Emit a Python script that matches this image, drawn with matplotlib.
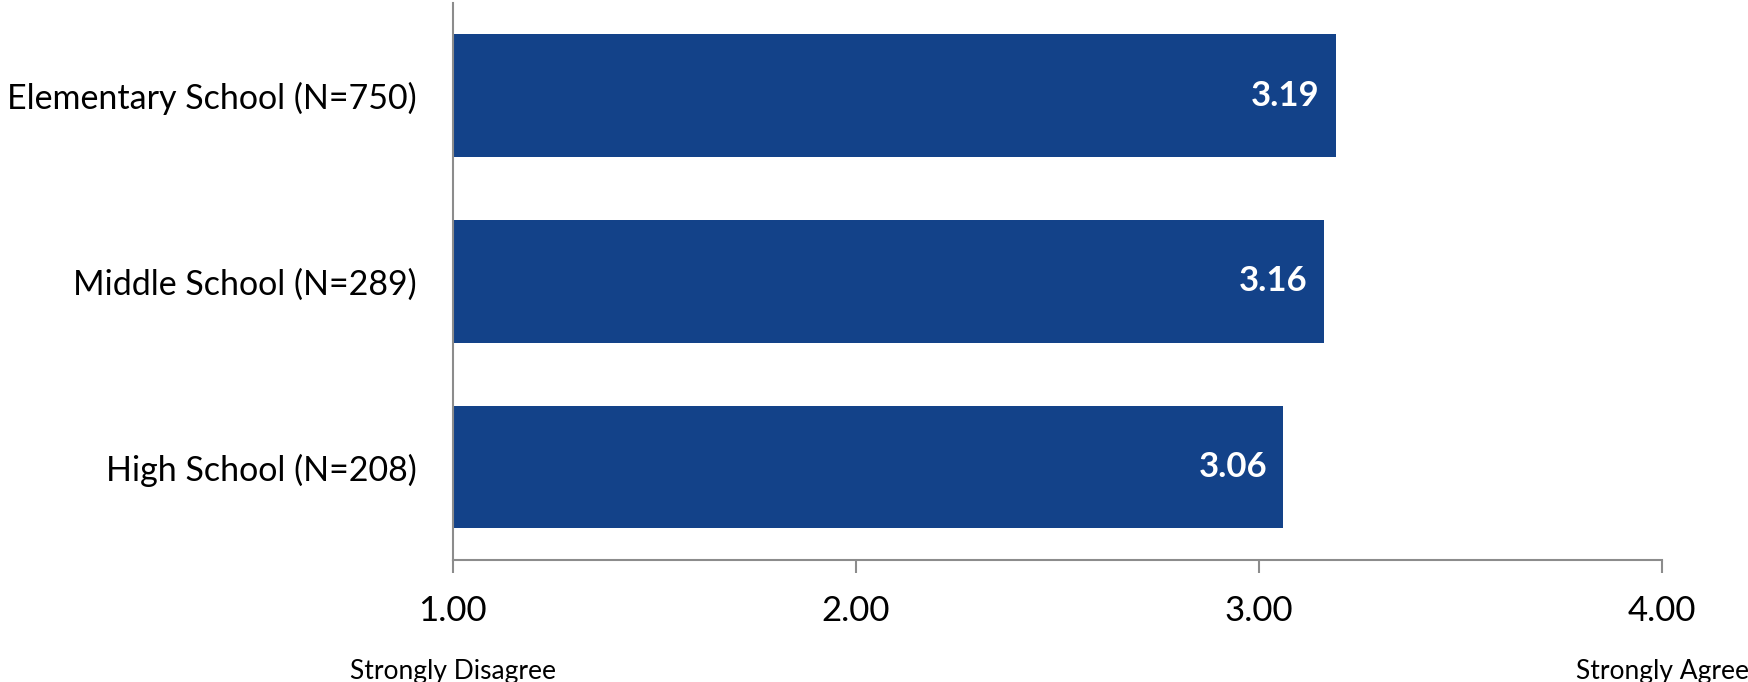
import matplotlib
matplotlib.use("Agg")
import matplotlib.pyplot as plt

schools = ["High School (N=208)", "Middle School (N=289)", "Elementary School (N=750)"]
means = [3.06, 3.16, 3.19]
xticks = [1.0, 2.0, 3.0, 4.0]

plt.rcParams['font.family'] = ['Lato', 'DejaVu Sans']

fig = plt.figure(figsize=(17.48, 6.82), dpi=100)
ax = fig.add_axes([0.259, 0.179, 0.692, 0.817])

bar_color = "#134289"
axis_color = "#8c8c8c"

ypos = range(len(schools))
ax.barh(ypos, [m - 1 for m in means], left=1, height=0.66, color=bar_color)

for y, m in zip(ypos, means):
    ax.text(m - 0.04, y, f"{m:.2f}", ha="right", va="center",
            color="white", fontsize=25, fontweight="bold")

ax.set_xlim(1, 4)
ax.set_ylim(-0.5, 2.5)
ax.set_yticks(list(ypos))
ax.set_yticklabels(schools, fontsize=24.5)
ax.set_xticks(xticks)
ax.set_xticklabels([f"{t:.2f}" for t in xticks], fontsize=25)

for side in ("top", "right"):
    ax.spines[side].set_visible(False)
for side in ("left", "bottom"):
    ax.spines[side].set_color(axis_color)
    ax.spines[side].set_linewidth(1.5)

ax.tick_params(axis="y", length=0, pad=26)
ax.tick_params(axis="x", length=9, width=1.5, color=axis_color, pad=16)

# scale anchors under the end ticks
ax.text(1, -0.2, "Strongly Disagree", transform=ax.get_xaxis_transform(),
        ha="center", va="center", fontsize=19)
ax.text(4, -0.2, "Strongly Agree", transform=ax.get_xaxis_transform(),
        ha="center", va="center", fontsize=19, clip_on=False)

fig.savefig("out.png", dpi=100)
